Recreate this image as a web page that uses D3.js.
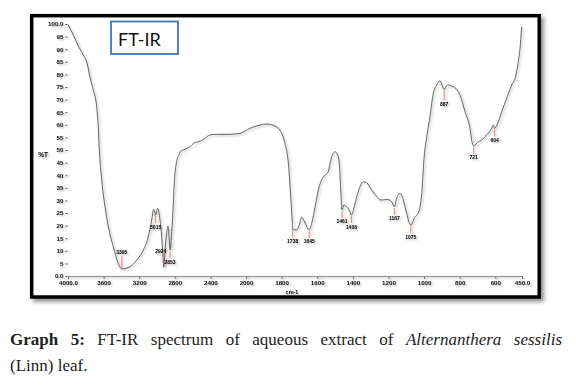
<!DOCTYPE html>
<html>
<head>
<meta charset="utf-8">
<script src="https://cdn.jsdelivr.net/npm/d3@7"></script>
<style>
  body { margin: 0; background: #fff; }
  #chart { position: relative; width: 576px; height: 386px; overflow: hidden; }
  .caption { position: absolute; left: 10px; width: 552px; font-family: "Liberation Serif", serif; font-size: 17px; color: #222; }
  .l1 { top: 330px; text-align: justify; text-align-last: justify; }
  .l2 { top: 356px; }
</style>
</head>
<body>
<div id="chart"></div>
<script>
const width = 576;
const height = 386;

// spectrum (wavenumber cm-1 -> %T)
const wavenumber = [4000, 3938, 3873, 3828, 3790, 3753, 3716, 3678, 3660, 3648, 3621, 3584, 3547, 3491, 3435, 3395,
  3303, 3228, 3154, 3098, 3060, 3038, 3015, 2994, 2966, 2947, 2935, 2924, 2910, 2876, 2865, 2853, 2838, 2824, 2806,
  2779, 2749, 2742, 2685, 2629, 2592, 2536, 2480, 2404, 2329, 2217, 2067, 1978, 1921, 1884, 1837, 1809, 1781, 1762,
  1749, 1740, 1738, 1715, 1701, 1687, 1674, 1659, 1645, 1631, 1612, 1594, 1575, 1556, 1538, 1528, 1515, 1500, 1485,
  1476, 1468, 1461, 1450, 1435, 1416, 1408, 1394, 1378, 1360, 1341, 1322, 1294, 1266, 1247, 1229, 1210, 1182, 1167,
  1154, 1135, 1117, 1098, 1075, 1051, 1033, 1013, 1001, 985, 967, 948, 929, 911, 887, 870, 845, 814, 798, 770, 742,
  730, 721, 695, 676, 648, 620, 611, 604, 583, 564, 536, 508, 489, 471, 461, 452];
const transmittance = [99.8, 95.5, 90.5, 87.7, 85, 79, 73.8, 67.2, 59.2, 50, 38, 27.5, 19.6, 11.6, 5, 2.8,
  3.7, 6.3, 10.3, 15.6, 22.2, 26.5, 24.2, 26.9, 22.2, 15.6, 9, 3.5, 10, 19.8, 15.6, 10.3, 16, 23.5, 37,
  45.5, 48.5, 49.3, 50.3, 51.3, 52.6, 53.3, 54.2, 56, 56.2, 56.2, 56.6, 58.6, 59.9, 60.3, 59.5, 57.8, 52.6, 44.7,
  31.5, 20.9, 18.3, 18.3, 20.2, 23.3, 21.9, 19.6, 18.3, 20.9, 27.5, 34.1, 38.1, 40.1, 41.4, 44.7, 48, 49.3, 48,
  44.7, 34.1, 26.2, 28.2, 27.5, 25.5, 24.2, 26.9, 31.5, 35.4, 37.4, 37, 34.1, 31.5, 30.2, 30.2, 30.4, 29.5, 27.5,
  30.8, 32.8, 30.2, 24.9, 20.2, 23.5, 24.9, 32.8, 46, 55.3, 63.2, 72.5, 75.8, 77.5, 74, 75.8, 75.4, 73.8, 71.8, 65.2, 58.6,
  53, 51.7, 53.3, 54, 56, 58.6, 59.9, 58.6, 61.2, 65.2, 70.5, 75.8, 78.4, 85, 90.4, 98.9];

const peaks = [3395, 3015, 2924, 2853, 1738, 1645, 1461, 1408, 1167, 1075, 887, 721, 604];
const peakLabels = ["3395", "3015", "2924", "2853", "1738", "1645", "1461", "1408", "1167", "1075", "887", "721", "604"];

const xTicks = [4000, 3600, 3200, 2800, 2400, 2000, 1800, 1600, 1400, 1200, 1000, 800, 600, 450];
const xTickLabels = ["4000.0", "3600", "3200", "2800", "2400", "2000", "1800", "1600", "1400", "1200", "1000", "800", "600", "450.0"];
const yTicks = d3.range(0, 101, 5);

const spectrum = wavenumber.map((w, i) => ({ w: w, t: transmittance[i] }));

const svg = d3.select("#chart").append("svg")
  .attr("width", width)
  .attr("height", height)
  .style("position", "absolute").style("left", 0).style("top", 0);

const defs = svg.append("defs");
defs.append("filter").attr("id", "shadow").attr("x", "-5%").attr("y", "-5%").attr("width", "115%").attr("height", "115%")
  .append("feDropShadow").attr("dx", 1.3).attr("dy", 1.3).attr("stdDeviation", 0.8)
  .attr("flood-color", "#000").attr("flood-opacity", 0.35);
defs.append("filter").attr("id", "frameShadow").attr("x", "-5%").attr("y", "-5%").attr("width", "115%").attr("height", "120%")
  .append("feDropShadow").attr("dx", 3).attr("dy", 3).attr("stdDeviation", 2)
  .attr("flood-color", "#000").attr("flood-opacity", 0.45);

// frame
svg.append("rect")
  .attr("x", 31.7).attr("y", 15.7).attr("width", 507.5).attr("height", 281.3)
  .attr("fill", "#fff").attr("stroke", "#000").attr("stroke-width", 3.5)
  .attr("filter", "url(#frameShadow)");

// scales: 4000-2000 compressed, 2000-450 expanded
const x = d3.scaleLinear().domain([4000, 2000, 450]).range([68, 246, 522]);
const y = d3.scaleLinear().domain([0, 100]).range([276, 24]);

const plot = svg.append("g").attr("filter", "url(#shadow)");

// x axis
const xAxis = plot.append("g").attr("transform", `translate(0,${y(0)})`)
  .call(d3.axisBottom(x).tickValues(xTicks).tickSize(3).tickFormat((d, i) => xTickLabels[i]));
xAxis.select(".domain").attr("stroke", "#777").attr("stroke-width", 0.8);
xAxis.selectAll(".tick line").attr("stroke", "#777");
xAxis.selectAll("text").attr("dy", "0.5em")
  .style("font-family", "'Liberation Sans', Arial, sans-serif").style("font-size", "6.2px").style("font-weight", "bold").attr("fill", "#111");

// y axis
const yAxis = plot.append("g").attr("transform", `translate(${x(4000) - 0.5},0)`)
  .call(d3.axisLeft(y).tickValues(yTicks).tickSize(2).tickPadding(2)
    .tickFormat(d => d === 0 ? "0.0" : d === 100 ? "100.0" : d));
yAxis.select(".domain").remove();
yAxis.selectAll(".tick line").attr("stroke", "#555");
yAxis.selectAll("text")
  .style("font-family", "'Liberation Sans', Arial, sans-serif").style("font-size", "6.2px").style("font-weight", "bold").attr("fill", "#111");

plot.append("text").attr("x", 43).attr("y", 157).attr("text-anchor", "middle")
  .style("font-family", "'Liberation Sans', Arial, sans-serif").style("font-size", "6.5px").style("font-weight", "bold")
  .text("%T");
plot.append("text").attr("x", 292).attr("y", 294).attr("text-anchor", "middle")
  .style("font-family", "'Liberation Sans', Arial, sans-serif").style("font-size", "5.5px").style("font-weight", "bold")
  .text("cm-1");

// spectrum line
const line = d3.line().x(d => x(d.w)).y(d => y(d.t)).curve(d3.curveMonotoneX);
plot.append("path").datum(spectrum)
  .attr("d", line).attr("fill", "none").attr("stroke", "#555").attr("stroke-width", 0.9);

// peak markers
function tAt(w) {
  for (let i = 0; i < spectrum.length - 1; i++) {
    const a = spectrum[i], b = spectrum[i + 1];
    if (w <= a.w && w >= b.w) return a.t + (b.t - a.t) * (a.w - w) / (a.w - b.w);
  }
  return 0;
}
const above = new Set([3395, 2924]);
const marks = plot.append("g");
peaks.forEach((p, i) => {
  const px = x(p), py = y(tAt(p));
  const up = above.has(p);
  const len = p === 887 ? 11 : (up ? 13 : 8);
  marks.append("line")
    .attr("x1", px).attr("x2", px)
    .attr("y1", up ? py - 1 : py + 1).attr("y2", up ? py - len : py + len)
    .attr("stroke", "#f06060").attr("stroke-width", 0.8);
  marks.append("text")
    .attr("x", p === 2924 ? px - 3 : px)
    .attr("y", up ? py - len - 1.5 : py + len + 5.5)
    .attr("text-anchor", "middle")
    .style("font-family", "'Liberation Sans', Arial, sans-serif").style("font-size", "5px").style("font-weight", "bold")
    .text(peakLabels[i]);
});

// FT-IR title box
svg.append("rect").attr("x", 111).attr("y", 21.5).attr("width", 67).attr("height", 32.5)
  .attr("fill", "#fff").attr("stroke", "#4f81bd").attr("stroke-width", 2);
svg.append("text").attr("x", 118).attr("y", 46)
  .style("font-family", "Lato, 'Open Sans', sans-serif").style("font-size", "18px").attr("fill", "#111")
  .text("FT-IR");

// caption
const chart = d3.select("#chart");
const l1 = chart.append("div").attr("class", "caption l1");
l1.append("b").text("Graph 5: ");
l1.append("span").text("FT-IR spectrum of aqueous extract of ");
l1.append("i").text("Alternanthera sessilis");
chart.append("div").attr("class", "caption l2").text("(Linn) leaf.");
</script>
</body>
</html>
